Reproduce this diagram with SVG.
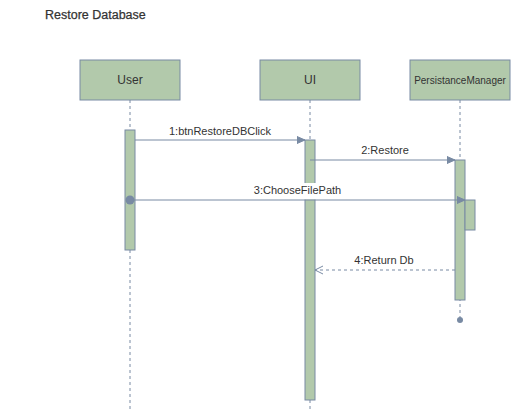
<svg xmlns="http://www.w3.org/2000/svg" width="512" height="412" viewBox="0 0 512 412">
<style>
.box{fill:#b2c9ab;stroke:#788aa3;stroke-width:1}
.life{stroke:#788aa3;stroke-width:1;stroke-dasharray:3 3;fill:none}
.msg{stroke:#788aa3;stroke-width:1;fill:none}
.ret{stroke:#788aa3;stroke-width:1;fill:none;stroke-dasharray:3 3}
.t{font-family:"Liberation Sans",Arial,sans-serif;fill:#333333;text-anchor:middle}
.lbg{fill:#ffffff}
</style>
<defs>
<marker id="block" markerWidth="9" markerHeight="8" refX="8" refY="4" orient="auto" markerUnits="userSpaceOnUse">
<path d="M0,0.5 L8,4 L0,7.5 Z" fill="#788aa3" stroke="#788aa3" stroke-width="1"/>
</marker>
<marker id="open" markerWidth="10" markerHeight="10" refX="9" refY="5" orient="auto" markerUnits="userSpaceOnUse">
<path d="M1,1 L9,5 L1,9" fill="none" stroke="#788aa3" stroke-width="1"/>
</marker>
</defs>
<rect width="512" height="412" fill="#ffffff"/>
<text x="45" y="19" font-family="Liberation Sans, Arial, sans-serif" font-size="12.5" fill="#333333" stroke="#333333" stroke-width="0.25">Restore Database</text>
<g id="lifelines">
<line class="life" x1="130" y1="100" x2="130" y2="410"/>
<line class="life" x1="310" y1="100" x2="310" y2="410"/>
<line class="life" x1="460" y1="100" x2="460" y2="320"/>
<circle cx="460" cy="320" r="3" fill="#788aa3"/>
</g>
<g id="node-user">
<rect class="box" x="80" y="60" width="100" height="40"/>
<text class="t" x="130" y="84" font-size="12">User</text>
</g>
<g id="node-ui">
<rect class="box" x="260" y="60" width="100" height="40"/>
<text class="t" x="310" y="84" font-size="12">UI</text>
</g>
<g id="node-pm">
<rect class="box" x="410" y="60" width="100" height="40"/>
<text class="t" x="460" y="84" font-size="10">PersistanceManager</text>
</g>
<g id="activations">
<rect class="box" x="125" y="130" width="10" height="120"/>
<rect class="box" x="305" y="140" width="10" height="260"/>
<rect class="box" x="455" y="160" width="10" height="140"/>
<rect class="box" x="465" y="200" width="10" height="30"/>
</g>
<g id="connectors">
<line class="msg" x1="135" y1="140" x2="305" y2="140" marker-end="url(#block)"/>
<text class="t" x="220" y="135" font-size="11">1:btnRestoreDBClick</text>
<line class="msg" x1="310" y1="160" x2="455" y2="160" marker-end="url(#block)"/>
<text class="t" x="385" y="154" font-size="11">2:Restore</text>
<rect class="lbg" x="252" y="183" width="91" height="16.5"/>
<circle cx="130" cy="200" r="4.5" fill="#788aa3"/>
<line class="msg" x1="130" y1="200" x2="465" y2="200" marker-end="url(#block)"/>
<text class="t" x="297.5" y="194" font-size="11">3:ChooseFilePath</text>
<line class="ret" x1="455" y1="270" x2="315" y2="270" marker-end="url(#open)"/>
<text class="t" x="384" y="264" font-size="11">4:Return Db</text>
</g>
</svg>
